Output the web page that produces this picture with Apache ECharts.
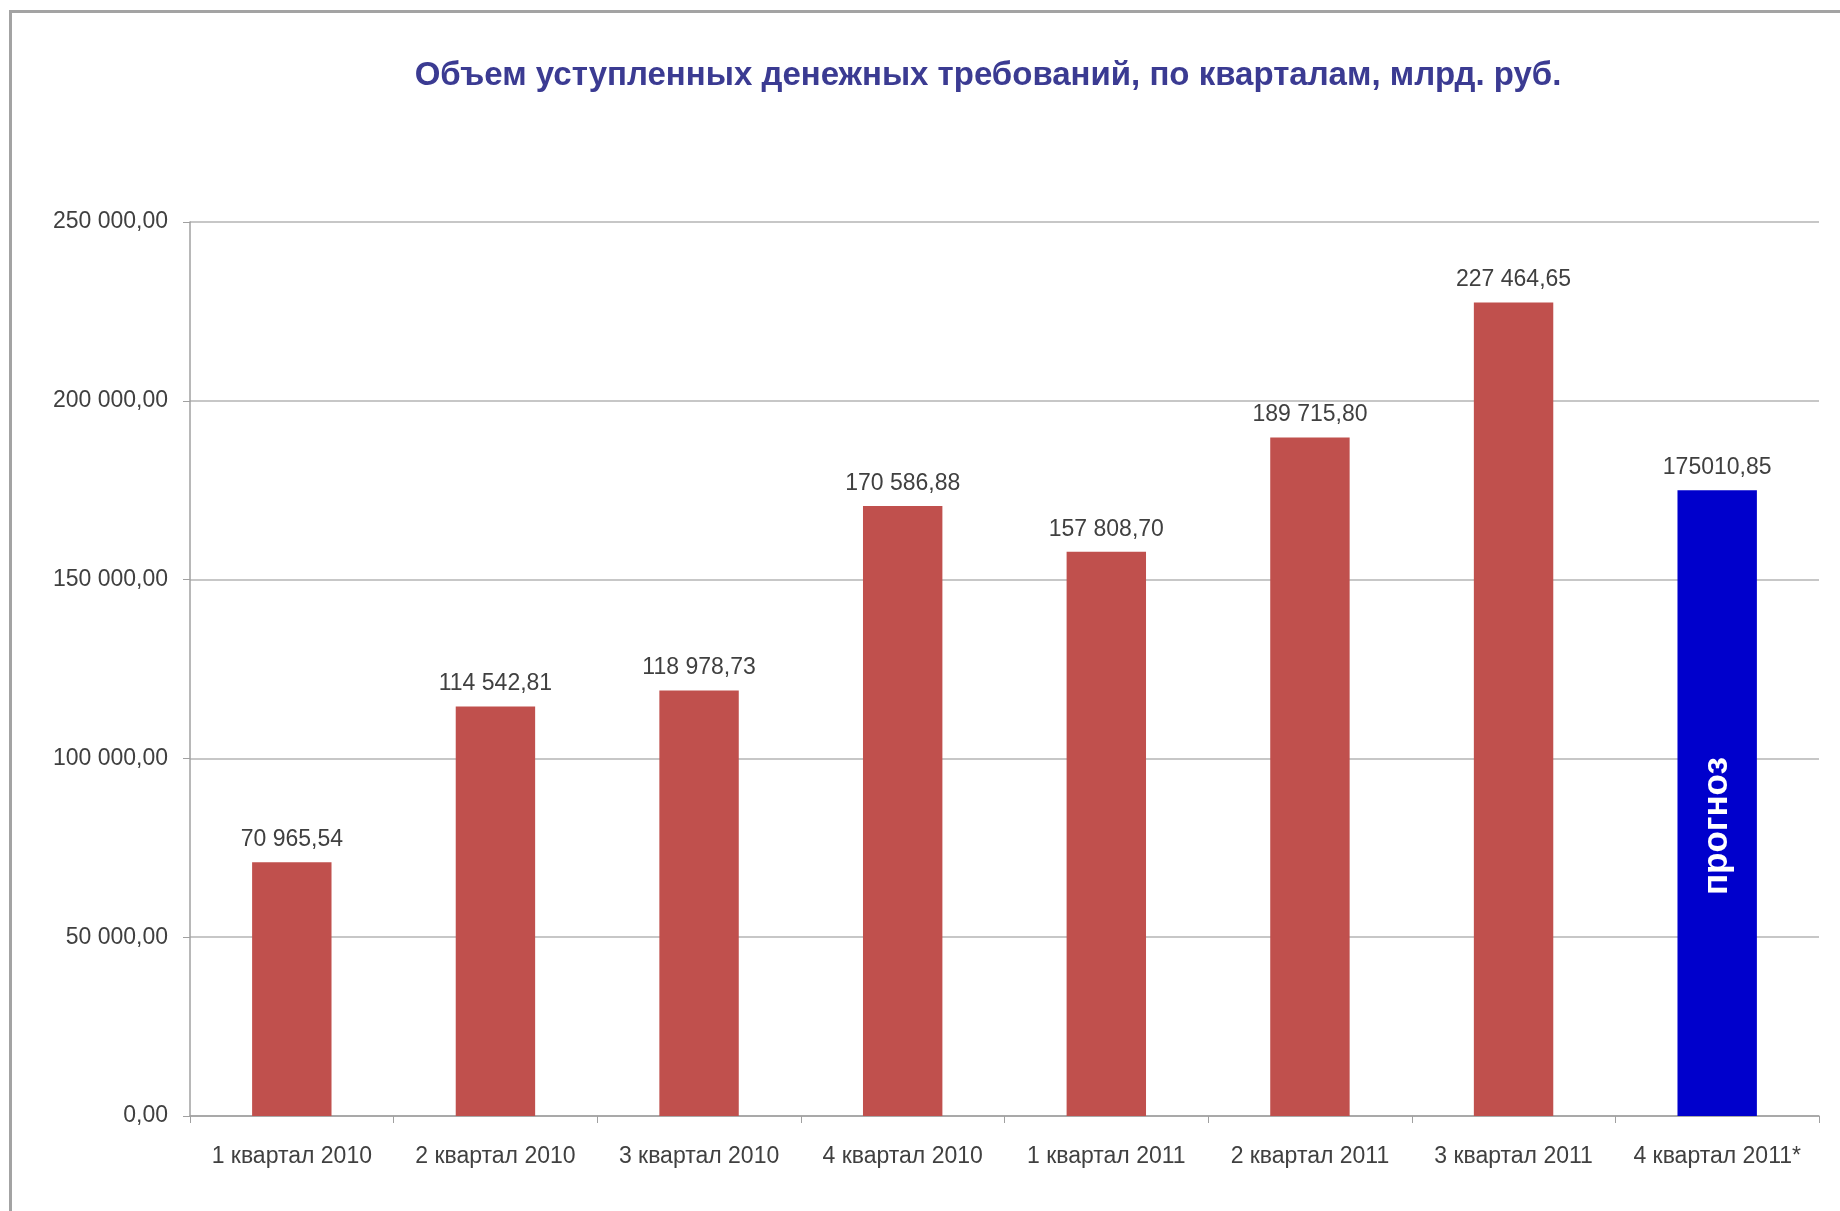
<!DOCTYPE html>
<html>
<head>
<meta charset="utf-8">
<style>
  html, body { margin: 0; padding: 0; background: #ffffff; }
  #chart { width: 1840px; height: 1211px; }
</style>
<script src="https://cdn.jsdelivr.net/npm/echarts@6/dist/echarts.min.js"></script>
</head>
<body>
<div id="chart"></div>
<script>
// Quarterly volume of assigned monetary claims, bn rub.
const quarters = [
  '1 квартал 2010', '2 квартал 2010', '3 квартал 2010', '4 квартал 2010',
  '1 квартал 2011', '2 квартал 2011', '3 квартал 2011', '4 квартал 2011*'
];
const volumes = [70965.54, 114542.81, 118978.73, 170586.88, 157808.70, 189715.80, 227464.65, 175010.85];
const forecastIndex = 7;
const forecastText = 'прогноз';
const chartTitle = 'Объем уступленных денежных требований, по кварталам, млрд. руб.';

const FONT = '"Liberation Sans", "DejaVu Sans", sans-serif';

// "227 464,65" style: space as thousands separator, comma decimal
function fmt(v, group) {
  const parts = v.toFixed(2).split('.');
  let int = parts[0];
  if (group) int = int.replace(/\B(?=(\d{3})+(?!\d))/g, ' ');
  return int + ',' + parts[1];
}

const chart = echarts.init(document.getElementById('chart'), null, { renderer: 'canvas' });

chart.setOption({
  backgroundColor: '#ffffff',
  animation: false,
  title: {
    text: chartTitle,
    left: 983,
    top: 54,
    textAlign: 'center',
    textStyle: { fontFamily: FONT, fontSize: 33, fontWeight: 'bold', color: '#3b3b92' }
  },
  graphic: [{
    type: 'rect',
    left: 8, top: 9,
    shape: { width: 1900, height: 1300 },
    style: { fill: 'none', stroke: '#a3a3a3', lineWidth: 3 },
    silent: true, z: -1
  }],
  grid: { left: 190, right: 21, top: 222, bottom: 95 },
  xAxis: {
    type: 'category',
    data: quarters,
    axisLine: { lineStyle: { color: '#a0a0a0', width: 1.5 } },
    axisTick: { show: true, interval: 0, length: 7, lineStyle: { color: '#a0a0a0' } },
    axisLabel: { interval: 0, fontFamily: FONT, fontSize: 23, color: '#404040', margin: 29 }
  },
  yAxis: {
    type: 'value',
    min: 0, max: 250000, interval: 50000,
    axisLine: { show: true, lineStyle: { color: '#a0a0a0', width: 1.5 } },
    axisTick: { show: true, length: 7, lineStyle: { color: '#a0a0a0' } },
    splitLine: { lineStyle: { color: '#b4b4b4', width: 1.5 } },
    axisLabel: { fontFamily: FONT, fontSize: 23, color: '#404040', margin: 22,
      formatter: v => fmt(v, true) }
  },
  series: [
    {
      type: 'bar',
      barWidth: '39%',
      data: volumes.map((v, i) => ({
        value: v,
        itemStyle: { color: i === forecastIndex ? '#0000cc' : '#c0504d' }
      })),
      label: {
        show: true, position: 'top', distance: 11,
        fontFamily: FONT, fontSize: 23, color: '#404040',
        formatter: p => fmt(p.value, p.dataIndex !== forecastIndex)
      }
    },
    {
      // transparent overlay carrying the vertical caption on the forecast bar
      type: 'bar',
      barWidth: '39%',
      barGap: '-100%',
      silent: true,
      data: volumes.map((v, i) => i === forecastIndex ? v : null),
      itemStyle: { color: 'rgba(0,0,0,0)' },
      label: {
        show: true, position: 'inside', rotate: 90, offset: [-23, 0],
        fontFamily: FONT, fontSize: 35, fontWeight: 'bold', color: '#ffffff',
        formatter: () => forecastText
      }
    }
  ]
});
</script>
</body>
</html>
